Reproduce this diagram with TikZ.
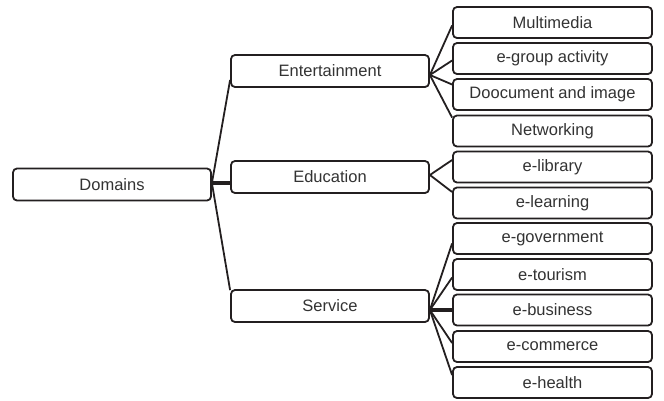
\documentclass[tikz,border=0pt]{standalone}
\usepackage{fontspec}
\setmainfont{Liberation Sans}
\definecolor{ink}{HTML}{231F20}
\definecolor{txt}{HTML}{333333}
\begin{document}
\begin{tikzpicture}[x=1pt,y=-1pt,
  box/.style={draw=ink,line width=1.8pt,rounded corners=4pt,fill=white,
    minimum height=32pt,inner sep=0pt,text=txt,font=\fontsize{16.5}{18}\selectfont},
  rootbox/.style={box,minimum width=198pt},
  midbox/.style={box,minimum width=198pt},
  leafbox/.style={box,minimum width=199pt,minimum height=31pt},
  link/.style={draw=ink,line width=1.8pt},
  thick link/.style={draw=ink,line width=3.5pt}]
\useasboundingbox (0,0) rectangle (664,400);
\node[rootbox] (dom) at (112,184.5) {Domains};
\node[midbox] (ent) at (330,71) {Entertainment};
\node[midbox] (edu) at (330,177) {Education};
\node[midbox] (ser) at (330,306) {Service};
\node[leafbox] (mm) at (552.5,22.5) {Multimedia};
\node[leafbox] (eg) at (552.5,58.5) {e-group activity};
\node[leafbox] (doc) at (552.5,94.5) {Doocument and image};
\node[leafbox] (net) at (552.5,131) {Networking};
\node[leafbox] (lib) at (552.5,167) {e-library};
\node[leafbox] (lrn) at (552.5,203) {e-learning};
\node[leafbox] (gov) at (552.5,238.5) {e-government};
\node[leafbox] (tour) at (552.5,274.5) {e-tourism};
\node[leafbox] (bus) at (552.5,310) {e-business};
\node[leafbox] (com) at (552.5,346.5) {e-commerce};
\node[leafbox] (hea) at (552.5,382.5) {e-health};
% root links
\draw[link] ([yshift=1.5pt]dom.east) -- ([yshift=-9pt]ent.west);
\draw[link] ([yshift=1.5pt]dom.east) -- ([yshift=-1pt]ser.north west);
\draw[thick link] ([yshift=1.5pt]dom.east) -- ([yshift=-6pt]edu.west);
% entertainment
\draw[link] ([yshift=-4pt]ent.east) -- ([yshift=-3pt]mm.west);
\draw[link] ([yshift=-4pt]ent.east) -- ([yshift=-2pt]eg.west);
\draw[link] ([yshift=-4pt]ent.east) -- ([yshift=10pt]doc.west);
\draw[link] ([yshift=-4pt]ent.east) -- ([yshift=-3pt]net.north west);
% education
\draw[link] ([yshift=2pt]edu.east) -- ([yshift=7pt]lib.west);
\draw[link] ([yshift=2pt]edu.east) -- ([yshift=11pt]lrn.west);
% service
\draw[link] ([yshift=-4pt]ser.east) -- ([yshift=-5pt]gov.west);
\draw[link] ([yshift=-4pt]ser.east) -- ([yshift=-3pt]tour.west);
\draw[thick link] ([yshift=-4pt]ser.east) -- (bus.west);
\draw[link] ([yshift=-4pt]ser.east) -- ([yshift=3.5pt]com.west);
\draw[link] ([yshift=-4pt]ser.east) -- ([yshift=7.5pt]hea.west);
\end{tikzpicture}
\end{document}
